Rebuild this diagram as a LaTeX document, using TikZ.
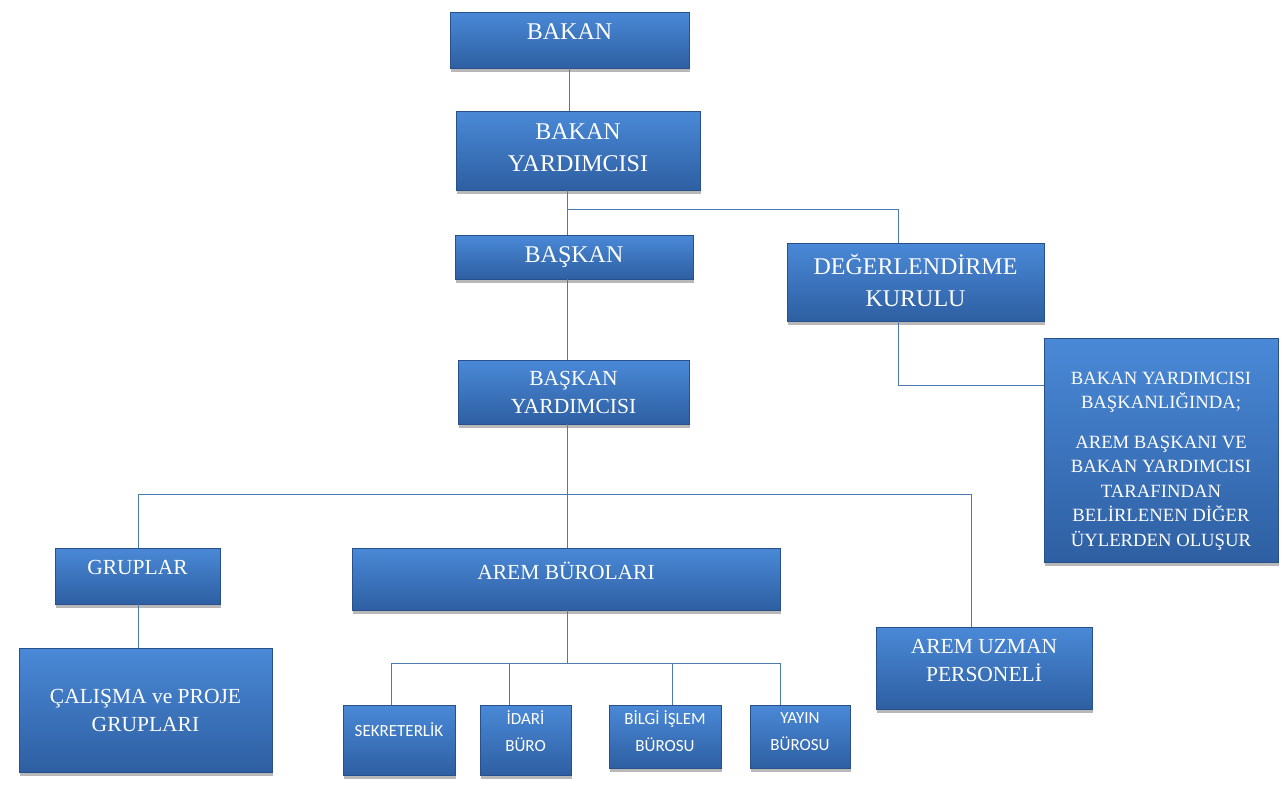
\documentclass[tikz,border=0pt]{standalone}
\usepackage{fontspec}
\setmainfont{Liberation Serif}
\newfontfamily\calfont{Carlito}
\usepackage{xcolor}
\usepackage{tikz}
\usetikzlibrary{shadows}
\definecolor{bg}{HTML}{FFFFFF}
\definecolor{boxtop}{HTML}{4A89D7}
\definecolor{boxmid}{HTML}{3C76C2}
\definecolor{boxbot}{HTML}{2E5FA2}
\definecolor{boxedge}{HTML}{28508A}
\definecolor{linec}{HTML}{4A7AAE}
\tikzset{
  box/.style={rectangle, draw=boxedge, line width=0.8pt, top color=boxtop, middle color=boxmid,
    bottom color=boxbot, text=white, align=center, inner sep=2pt,
    drop shadow={shadow xshift=1pt, shadow yshift=-3.5pt, opacity=0.5, fill=black!55}},
  big/.style={box, font=\fontsize{24}{32}\selectfont},
  mid/.style={box, font=\fontsize{21.5}{28}\selectfont},
  sml/.style={box, font=\calfont\fontsize{17}{27}\selectfont},
  conn/.style={draw=linec, line width=1pt},
  sz/.style 2 args={minimum width=#1, minimum height=#2},
}
\begin{document}
\begin{tikzpicture}[x=1pt, y=-1pt]
  \useasboundingbox[fill=bg] (0,0) rectangle (1288,793);
  % boxes
  \node[big, sz={239pt}{56pt}, text depth=16pt] (bakan) at (569.5,40) {BAKAN};
  \node[big, sz={244pt}{79pt}, text depth=6pt] (byrd) at (578,150.5) {BAKAN\\YARDIMCISI};
  \node[big, sz={238pt}{44pt}] (baskan) at (574,257) {BAŞKAN};
  \node[big, sz={257pt}{78pt}, text depth=4pt] (kurul) at (915.5,282) {DEĞERLENDİRME\\KURULU};
  \node[mid, sz={231pt}{64pt}] (baskanyrd) at (573.5,392) {BAŞKAN\\YARDIMCISI};
  \node[box, sz={234pt}{224pt}, text height=192pt, text depth=0pt, font=\fontsize{18.7}{24.5}\selectfont] (uyeler) at (1161,450)
    {BAKAN YARDIMCISI\\BAŞKANLIĞINDA;\\[15pt]AREM BAŞKANI VE\\BAKAN YARDIMCISI\\TARAFINDAN\\BELİRLENEN DİĞER\\ÜYLERDEN OLUŞUR};
  \node[mid, sz={165pt}{56pt}, text depth=18pt] (gruplar) at (137.5,576) {GRUPLAR};
  \node[mid, sz={428pt}{62pt}, text depth=16pt] (burolar) at (566,579) {AREM BÜROLARI};
  \node[mid, sz={216pt}{82pt}, text depth=16pt] (uzman) at (984,668) {AREM UZMAN\\PERSONELİ};
  \node[mid, sz={253pt}{124pt}] (calisma) at (145.5,710) {ÇALIŞMA ve PROJE\\GRUPLARI};
  \node[sml, sz={112pt}{70pt}, text depth=20pt] (sekreter) at (399,740) {SEKRETERLİK};
  \node[sml, sz={91pt}{70pt}, text depth=18pt] (idari) at (525.5,740) {İDARİ\\BÜRO};
  \node[sml, sz={112pt}{63pt}, text depth=10pt] (bilgi) at (665,736.5) {BİLGİ İŞLEM\\BÜROSU};
  \node[sml, sz={100pt}{63pt}, text depth=10pt] (yayin) at (800,736.5) {YAYIN\\BÜROSU};
  % junctions
  \coordinate (j1) at (567,209);
  \coordinate (j1k) at (898,209);
  \coordinate (j2) at (898,385);
  \coordinate (j3) at (567,494);
  \coordinate (jg) at (138,494);
  \coordinate (ju) at (971,494);
  \coordinate (j4) at (567,663);
  \coordinate (js) at (391,663);
  \coordinate (jd) at (509,663);
  \coordinate (jb) at (672,663);
  \coordinate (jy) at (780,663);
  % connectors
  \draw[conn] (bakan.south) -- (bakan.south |- byrd.north);
  \draw[conn] (j1 |- byrd.south) -- (j1 |- baskan.north);
  \draw[conn] (j1) -- (j1k) -- (j1k |- kurul.north);
  \draw[conn] (j1 |- baskan.south) -- (j1 |- baskanyrd.north);
  \draw[conn] (j2 |- kurul.south) -- (j2) -- (j2 -| uyeler.west);
  \draw[conn] (j3 |- baskanyrd.south) -- (j3 |- burolar.north);
  \draw[conn] (jg |- gruplar.north) -- (jg) -- (ju) -- (ju |- uzman.north);
  \draw[conn] (jg |- gruplar.south) -- (jg |- calisma.north);
  \draw[conn] (j4 |- burolar.south) -- (j4);
  \draw[conn] (js |- sekreter.north) -- (js) -- (jy) -- (jy |- yayin.north);
  \draw[conn] (jd) -- (jd |- idari.north);
  \draw[conn] (jb) -- (jb |- bilgi.north);
\end{tikzpicture}
\end{document}
